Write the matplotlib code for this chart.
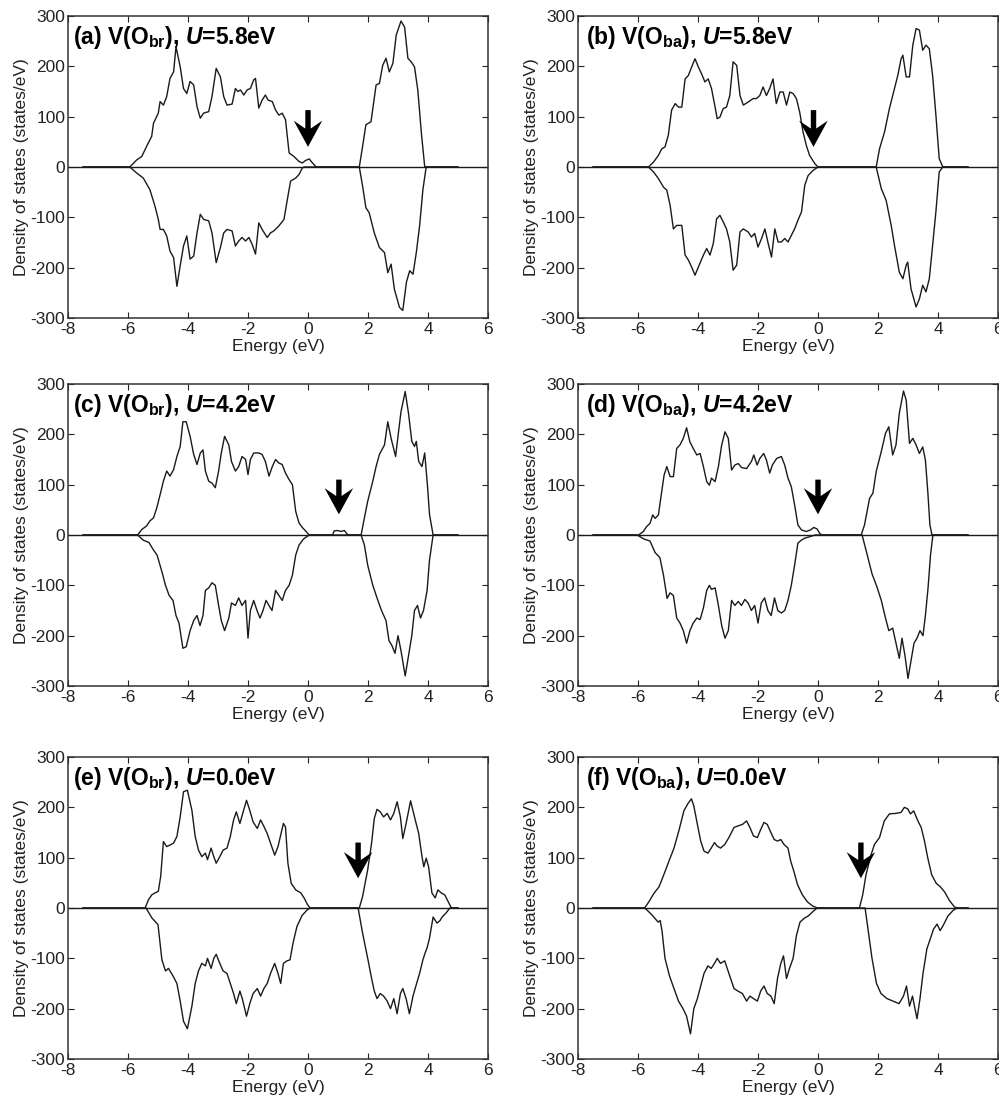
import numpy as np
import matplotlib
matplotlib.use("Agg")
import matplotlib.pyplot as plt

plt.rcParams['font.family'] = ['Liberation Sans', 'DejaVu Sans']
plt.rcParams['axes.unicode_minus'] = False
plt.rcParams['mathtext.fontset'] = 'custom'
plt.rcParams['mathtext.rm'] = 'Liberation Sans'
plt.rcParams['mathtext.bf'] = 'Liberation Sans:bold'
plt.rcParams['mathtext.it'] = 'Liberation Sans:italic'
plt.rcParams['mathtext.bfit'] = 'Liberation Sans:italic:bold'

# ---------------- data: (energy eV, DOS states/eV) ----------------
A_UP = [(-7.5,0),(-5.94,0),(-5.71,14),(-5.54,21),(-5.38,41),(-5.21,61),(-5.15,87),(-4.99,107),(-4.93,130),(-4.82,123),(-4.71,140),(-4.60,176),(-4.48,189),(-4.40,239),(-4.26,199),(-4.15,156),(-4.04,146),(-3.93,170),(-3.81,163),(-3.70,120),(-3.59,97),(-3.48,107),(-3.31,110),(-3.20,140),(-3.06,196),(-2.92,179),(-2.81,140),(-2.70,123),(-2.53,125),(-2.42,156),(-2.34,150),(-2.25,153),(-2.14,143),(-2.03,153),(-1.92,156),(-1.81,173),(-1.75,176),(-1.64,117),(-1.53,133),(-1.42,143),(-1.33,133),(-1.19,130),(-1.08,113),(-0.97,103),(-0.86,107),(-0.75,94),(-0.63,28),(-0.47,21),(-0.30,11),(-0.19,8),(-0.08,13),(0.04,16),(0.15,8),(0.26,1),(0.32,0),(1.71,0),(1.82,41),(1.93,84),(2.10,90),(2.27,163),(2.38,166),(2.49,202),(2.60,216),(2.71,189),(2.83,206),(2.94,262),(3.10,290),(3.22,278),(3.33,216),(3.44,209),(3.55,199),(3.66,153),(3.78,67),(3.89,1),(3.94,0),(5.0,0)]
A_DN = [(-7.5,0),(-5.94,0),(-5.71,-12),(-5.49,-22),(-5.27,-45),(-5.10,-78),(-4.99,-104),(-4.93,-124),(-4.82,-124),(-4.71,-137),(-4.60,-167),(-4.48,-180),(-4.37,-237),(-4.26,-196),(-4.15,-157),(-4.04,-137),(-3.93,-183),(-3.81,-177),(-3.70,-131),(-3.59,-94),(-3.48,-104),(-3.31,-107),(-3.20,-131),(-3.06,-190),(-2.92,-160),(-2.81,-131),(-2.70,-124),(-2.53,-127),(-2.42,-157),(-2.31,-147),(-2.20,-140),(-2.08,-147),(-1.97,-140),(-1.86,-154),(-1.75,-173),(-1.64,-111),(-1.53,-124),(-1.36,-140),(-1.25,-131),(-1.14,-127),(-0.97,-117),(-0.80,-104),(-0.69,-65),(-0.58,-28),(-0.41,-22),(-0.30,-15),(-0.19,-2),(-0.13,0),(1.71,0),(1.82,-38),(1.93,-81),(2.04,-91),(2.21,-131),(2.38,-160),(2.55,-170),(2.66,-210),(2.77,-193),(2.88,-243),(3.05,-279),(3.16,-285),(3.28,-229),(3.39,-206),(3.50,-213),(3.61,-170),(3.72,-117),(3.83,-45),(3.94,0),(5.0,0)]

B_UP = [(-7.5,0),(-5.65,0),(-5.48,10),(-5.32,23),(-5.21,36),(-5.10,40),(-4.99,63),(-4.88,113),(-4.76,126),(-4.65,119),(-4.54,119),(-4.43,175),(-4.32,182),(-4.21,199),(-4.10,215),(-3.99,199),(-3.88,185),(-3.77,169),(-3.66,175),(-3.55,156),(-3.43,119),(-3.36,96),(-3.27,99),(-3.16,116),(-3.05,119),(-2.94,142),(-2.83,209),(-2.71,202),(-2.60,142),(-2.49,123),(-2.33,129),(-2.16,136),(-2.05,136),(-1.94,142),(-1.83,159),(-1.72,142),(-1.61,156),(-1.50,175),(-1.39,126),(-1.27,149),(-1.16,149),(-1.05,123),(-0.94,149),(-0.83,146),(-0.72,136),(-0.61,109),(-0.50,70),(-0.39,43),(-0.28,23),(-0.11,7),(0.0,0),(1.94,0),(2.05,36),(2.22,70),(2.38,116),(2.55,156),(2.66,182),(2.77,215),(2.83,222),(2.94,179),(3.05,179),(3.16,242),(3.27,275),(3.38,272),(3.49,232),(3.60,242),(3.71,235),(3.82,182),(3.93,103),(4.04,17),(4.16,0),(5.0,0)]
B_DN = [(-7.5,0),(-5.65,0),(-5.48,-10),(-5.32,-23),(-5.15,-40),(-5.04,-46),(-4.93,-76),(-4.82,-123),(-4.71,-116),(-4.54,-116),(-4.43,-175),(-4.32,-185),(-4.21,-199),(-4.10,-215),(-3.99,-199),(-3.82,-175),(-3.71,-162),(-3.60,-175),(-3.49,-152),(-3.38,-103),(-3.27,-96),(-3.16,-109),(-3.05,-123),(-2.94,-149),(-2.83,-205),(-2.71,-195),(-2.60,-129),(-2.49,-123),(-2.33,-129),(-2.22,-139),(-2.11,-132),(-2.00,-159),(-1.88,-142),(-1.77,-123),(-1.66,-152),(-1.55,-179),(-1.44,-123),(-1.33,-149),(-1.22,-149),(-1.11,-142),(-1.00,-149),(-0.89,-136),(-0.78,-123),(-0.67,-106),(-0.55,-89),(-0.44,-36),(-0.33,-17),(-0.17,-7),(0.0,0),(1.94,0),(2.11,-43),(2.27,-66),(2.44,-116),(2.55,-156),(2.71,-209),(2.83,-222),(2.94,-195),(2.99,-189),(3.10,-242),(3.27,-278),(3.38,-262),(3.49,-235),(3.60,-248),(3.71,-222),(3.82,-156),(3.93,-89),(4.04,-10),(4.16,0),(5.0,0)]

C_UP = [(-7.5,0),(-5.68,0),(-5.54,11),(-5.38,18),(-5.27,28),(-5.15,34),(-5.04,54),(-4.93,80),(-4.82,107),(-4.71,127),(-4.60,117),(-4.48,130),(-4.37,156),(-4.26,176),(-4.17,225),(-4.06,225),(-3.93,196),(-3.81,160),(-3.70,140),(-3.59,163),(-3.50,169),(-3.42,127),(-3.31,107),(-3.20,103),(-3.09,94),(-2.98,127),(-2.89,163),(-2.78,196),(-2.64,179),(-2.55,146),(-2.42,127),(-2.31,136),(-2.20,156),(-2.08,150),(-2.00,120),(-1.92,150),(-1.81,163),(-1.64,163),(-1.53,160),(-1.42,146),(-1.30,117),(-1.19,136),(-1.08,150),(-0.97,143),(-0.86,140),(-0.75,123),(-0.63,110),(-0.52,100),(-0.41,47),(-0.30,24),(-0.19,15),(-0.08,8),(0.04,0),(0.82,0),(0.87,8),(0.98,9),(1.10,7),(1.21,9),(1.32,1),(1.38,0),(1.77,0),(1.88,34),(1.99,67),(2.16,107),(2.27,136),(2.38,160),(2.55,179),(2.66,225),(2.77,192),(2.92,156),(3.02,206),(3.10,245),(3.24,285),(3.35,242),(3.46,186),(3.55,176),(3.61,186),(3.69,146),(3.80,136),(3.89,163),(3.98,100),(4.05,41),(4.17,0),(5.0,0)]
C_DN = [(-7.5,0),(-5.68,0),(-5.50,-10),(-5.30,-15),(-5.17,-28),(-5.03,-40),(-4.87,-73),(-4.75,-100),(-4.63,-120),(-4.50,-130),(-4.40,-160),(-4.30,-175),(-4.17,-225),(-4.06,-222),(-3.93,-190),(-3.81,-170),(-3.70,-160),(-3.60,-180),(-3.50,-160),(-3.42,-110),(-3.31,-105),(-3.20,-95),(-3.09,-100),(-2.98,-140),(-2.89,-170),(-2.78,-190),(-2.64,-165),(-2.55,-135),(-2.42,-140),(-2.31,-125),(-2.20,-140),(-2.08,-130),(-2.00,-205),(-1.92,-150),(-1.81,-130),(-1.70,-150),(-1.60,-165),(-1.50,-150),(-1.40,-130),(-1.30,-140),(-1.20,-150),(-1.08,-110),(-0.97,-120),(-0.86,-130),(-0.75,-110),(-0.63,-100),(-0.52,-80),(-0.41,-40),(-0.30,-20),(-0.15,-8),(0.04,0),(1.77,0),(1.88,-20),(1.99,-60),(2.16,-100),(2.30,-125),(2.45,-150),(2.60,-170),(2.70,-210),(2.80,-220),(2.90,-235),(3.00,-200),(3.10,-230),(3.24,-280),(3.35,-240),(3.46,-200),(3.55,-150),(3.65,-140),(3.75,-165),(3.85,-150),(3.97,-110),(4.05,-50),(4.17,0),(5.0,0)]

D_UP = [(-7.5,0),(-5.98,0),(-5.82,7),(-5.71,17),(-5.60,23),(-5.51,40),(-5.43,33),(-5.32,40),(-5.21,86),(-5.13,119),(-5.04,136),(-4.93,116),(-4.82,116),(-4.71,172),(-4.60,179),(-4.49,192),(-4.38,213),(-4.27,185),(-4.16,172),(-4.04,159),(-3.93,162),(-3.82,136),(-3.71,106),(-3.62,99),(-3.55,113),(-3.43,106),(-3.32,136),(-3.21,179),(-3.10,205),(-2.99,192),(-2.88,129),(-2.77,139),(-2.66,142),(-2.55,134),(-2.38,132),(-2.22,146),(-2.14,159),(-2.03,139),(-1.94,152),(-1.81,162),(-1.72,149),(-1.61,123),(-1.52,139),(-1.38,152),(-1.22,156),(-1.11,139),(-1.00,113),(-0.89,96),(-0.78,60),(-0.67,20),(-0.55,10),(-0.39,7),(-0.25,10),(-0.14,15),(-0.03,12),(0.06,3),(0.14,0),(1.44,0),(1.55,20),(1.72,73),(1.83,83),(1.94,126),(2.11,166),(2.25,202),(2.36,215),(2.49,159),(2.60,179),(2.71,242),(2.85,286),(2.94,268),(3.05,182),(3.16,192),(3.27,179),(3.38,162),(3.49,175),(3.58,149),(3.66,86),(3.73,20),(3.80,0),(5.0,0)]
D_DN = [(-7.5,0),(-6.03,0),(-5.80,-8),(-5.60,-12),(-5.43,-35),(-5.27,-45),(-5.15,-80),(-5.03,-126),(-4.93,-115),(-4.82,-120),(-4.71,-165),(-4.60,-175),(-4.49,-190),(-4.38,-215),(-4.27,-190),(-4.16,-175),(-4.04,-165),(-3.93,-168),(-3.82,-145),(-3.71,-110),(-3.62,-100),(-3.55,-108),(-3.43,-105),(-3.32,-140),(-3.21,-180),(-3.10,-205),(-2.99,-190),(-2.88,-130),(-2.77,-140),(-2.66,-132),(-2.55,-140),(-2.44,-128),(-2.33,-135),(-2.22,-150),(-2.11,-140),(-2.00,-175),(-1.89,-135),(-1.78,-125),(-1.67,-150),(-1.56,-160),(-1.45,-125),(-1.34,-150),(-1.22,-155),(-1.11,-150),(-1.00,-130),(-0.89,-100),(-0.78,-60),(-0.67,-16),(-0.55,-10),(-0.43,-6),(-0.25,-3),(-0.10,0),(1.47,0),(1.60,-30),(1.80,-77),(1.97,-104),(2.11,-130),(2.25,-165),(2.36,-190),(2.49,-185),(2.60,-215),(2.71,-245),(2.80,-205),(2.90,-240),(3.00,-285),(3.10,-250),(3.20,-215),(3.30,-205),(3.40,-190),(3.50,-200),(3.58,-160),(3.67,-104),(3.75,-40),(3.83,0),(5.0,0)]

E_UP = [(-7.5,0),(-5.43,0),(-5.32,16),(-5.21,26),(-5.10,30),(-4.99,33),(-4.91,63),(-4.82,132),(-4.71,122),(-4.60,125),(-4.48,129),(-4.37,142),(-4.26,181),(-4.15,231),(-4.02,234),(-3.87,194),(-3.76,142),(-3.65,115),(-3.54,102),(-3.42,109),(-3.35,96),(-3.23,119),(-3.14,102),(-3.06,89),(-2.94,102),(-2.83,115),(-2.70,119),(-2.59,142),(-2.48,175),(-2.39,191),(-2.27,168),(-2.19,185),(-2.05,214),(-1.94,194),(-1.83,171),(-1.69,158),(-1.58,175),(-1.47,162),(-1.36,148),(-1.25,129),(-1.11,105),(-1.00,122),(-0.91,145),(-0.82,168),(-0.75,161),(-0.67,89),(-0.56,49),(-0.41,36),(-0.24,30),(-0.13,20),(-0.02,7),(0.07,0),(1.71,0),(1.82,23),(1.99,76),(2.12,129),(2.21,178),(2.30,196),(2.41,191),(2.52,181),(2.64,188),(2.75,175),(2.86,188),(2.97,211),(3.08,181),(3.16,138),(3.27,168),(3.42,213),(3.55,181),(3.69,148),(3.80,102),(3.86,82),(3.94,99),(4.02,82),(4.13,30),(4.24,20),(4.33,36),(4.44,30),(4.56,26),(4.67,13),(4.78,0),(5.0,0)]
E_DN = [(-7.5,0),(-5.40,0),(-5.20,-20),(-5.00,-33),(-4.87,-103),(-4.75,-125),(-4.65,-120),(-4.50,-135),(-4.37,-150),(-4.26,-185),(-4.15,-225),(-4.02,-240),(-3.87,-195),(-3.76,-150),(-3.65,-125),(-3.54,-110),(-3.42,-115),(-3.35,-100),(-3.23,-120),(-3.14,-100),(-3.06,-92),(-2.94,-110),(-2.83,-125),(-2.70,-130),(-2.59,-150),(-2.48,-170),(-2.39,-190),(-2.27,-165),(-2.19,-180),(-2.05,-215),(-1.94,-190),(-1.83,-170),(-1.69,-160),(-1.58,-175),(-1.47,-160),(-1.36,-150),(-1.25,-130),(-1.11,-110),(-1.00,-130),(-0.91,-150),(-0.82,-110),(-0.70,-105),(-0.60,-103),(-0.50,-70),(-0.37,-37),(-0.20,-15),(-0.03,-4),(0.07,0),(1.67,0),(1.82,-50),(2.00,-103),(2.12,-140),(2.21,-165),(2.30,-180),(2.41,-170),(2.52,-175),(2.64,-185),(2.75,-200),(2.86,-180),(2.97,-210),(3.08,-170),(3.16,-160),(3.27,-180),(3.38,-210),(3.50,-175),(3.62,-150),(3.72,-130),(3.83,-103),(3.90,-90),(3.97,-79),(4.05,-60),(4.17,-18),(4.30,-30),(4.40,-25),(4.47,-18),(4.60,-10),(4.73,0),(5.0,0)]

F_UP = [(-7.5,0),(-5.78,0),(-5.64,12),(-5.47,29),(-5.30,42),(-5.14,66),(-4.97,93),(-4.80,119),(-4.64,153),(-4.47,193),(-4.34,207),(-4.22,217),(-4.14,203),(-4.02,166),(-3.91,133),(-3.80,113),(-3.67,109),(-3.56,119),(-3.45,130),(-3.36,123),(-3.25,119),(-3.11,126),(-2.97,140),(-2.80,160),(-2.67,163),(-2.52,166),(-2.38,173),(-2.27,160),(-2.15,143),(-2.02,140),(-1.91,156),(-1.80,170),(-1.69,166),(-1.57,150),(-1.46,136),(-1.35,133),(-1.24,136),(-1.13,126),(-1.00,119),(-0.91,93),(-0.80,72),(-0.68,46),(-0.52,26),(-0.35,12),(-0.18,4),(-0.02,0),(1.38,0),(1.49,26),(1.60,66),(1.77,106),(1.88,126),(2.05,140),(2.21,173),(2.38,187),(2.60,188),(2.77,190),(2.88,200),(2.99,197),(3.08,187),(3.19,193),(3.33,173),(3.44,160),(3.55,133),(3.66,99),(3.79,66),(3.94,49),(4.08,42),(4.22,32),(4.38,15),(4.55,2),(4.66,0),(5.0,0)]
F_DN = [(-7.5,0),(-5.77,0),(-5.53,-14),(-5.43,-21),(-5.33,-28),(-5.26,-25),(-5.20,-45),(-5.10,-100),(-4.95,-135),(-4.80,-160),(-4.65,-185),(-4.50,-200),(-4.38,-215),(-4.25,-250),(-4.14,-200),(-4.02,-180),(-3.91,-155),(-3.80,-130),(-3.67,-115),(-3.56,-120),(-3.45,-110),(-3.36,-100),(-3.25,-110),(-3.11,-105),(-2.97,-130),(-2.80,-160),(-2.67,-165),(-2.52,-170),(-2.38,-185),(-2.27,-175),(-2.15,-180),(-2.02,-185),(-1.91,-165),(-1.80,-155),(-1.69,-170),(-1.57,-175),(-1.46,-190),(-1.35,-140),(-1.24,-110),(-1.15,-95),(-1.05,-140),(-0.95,-120),(-0.83,-100),(-0.72,-55),(-0.60,-28),(-0.45,-20),(-0.33,-16),(-0.15,-6),(-0.03,0),(1.57,0),(1.80,-100),(1.95,-150),(2.10,-170),(2.30,-180),(2.50,-185),(2.70,-190),(2.85,-175),(2.95,-155),(3.05,-195),(3.15,-175),(3.30,-220),(3.40,-180),(3.50,-130),(3.63,-81),(3.75,-60),(3.85,-42),(3.97,-32),(4.07,-45),(4.17,-35),(4.33,-16),(4.50,-5),(4.63,0),(5.0,0)]

LABELS = ["(a) V(O$_{\\mathbf{br}}$), $\\mathbfit{U}$=5.8eV",
          "(b) V(O$_{\\mathbf{ba}}$), $\\mathbfit{U}$=5.8eV",
          "(c) V(O$_{\\mathbf{br}}$), $\\mathbfit{U}$=4.2eV",
          "(d) V(O$_{\\mathbf{ba}}$), $\\mathbfit{U}$=4.2eV",
          "(e) V(O$_{\\mathbf{br}}$), $\\mathbfit{U}$=0.0eV",
          "(f) V(O$_{\\mathbf{ba}}$), $\\mathbfit{U}$=0.0eV"]
# arrow: (energy, top DOS, tip DOS)
ARROWS = [(0.0, 113, 40), (-0.15, 113, 40), (1.03, 110, 41),
          (0.0, 110, 41), (1.67, 130, 59), (1.43, 130, 59)]
UP = [A_UP, B_UP, C_UP, D_UP, E_UP, F_UP]
DN = [A_DN, B_DN, C_DN, D_DN, E_DN, F_DN]
XTICKS = [-8, -6, -4, -2, 0, 2, 4, 6]
YTICKS = [-300, -200, -100, 0, 100, 200, 300]

# ---------------- layout (pixels) ----------------
W, H = 999, 1102
fig = plt.figure(figsize=(W / 100, H / 100), dpi=100)
lefts = [68, 578]
tops = [16, 384, 757]
aw, ah = 420, 302

LC = '#1a1a1a'
for i in range(6):
    r, c = divmod(i, 2)
    l, t = lefts[c], tops[r]
    ax = fig.add_axes([l / W, 1 - (t + ah) / H, aw / W, ah / H])
    ax.set_xlim(-8, 6)
    ax.set_ylim(-300, 300)
    ax.axhline(0, color=LC, lw=1.0, zorder=2)
    up = np.array(UP[i], dtype=float)
    dn = np.array(DN[i], dtype=float)
    ax.plot(up[:, 0], up[:, 1], color=LC, lw=1.0, zorder=3)
    ax.plot(dn[:, 0], dn[:, 1], color=LC, lw=1.0, zorder=3)
    ex, ytop, ytip = ARROWS[i]
    ax.arrow(ex, ytop, 0, ytip - ytop, width=0.18, head_width=0.95,
             head_length=52, length_includes_head=True, overhang=0.3,
             color='black', lw=0, zorder=5)
    ax.set_xticks(XTICKS)
    ax.set_yticks(YTICKS)
    ax.tick_params(direction='in', top=True, right=True, length=4,
                   width=0.8, labelsize=12.5, pad=3, colors='#222222')
    ax.tick_params(axis='y', pad=2)
    for s in ax.spines.values():
        s.set_color('#333333')
        s.set_linewidth(1.1)
    ax.set_xlabel('Energy (eV)', fontsize=12.5, labelpad=1, color='#222222')
    ax.set_ylabel('Density of states (states/eV)', fontsize=12.5,
                  labelpad=1, color='#222222')
    ax.text(0.012 if c == 0 else 0.019, 0.907, LABELS[i], transform=ax.transAxes,
            fontsize=16.5, fontweight='bold', va='baseline', ha='left', zorder=6)

fig.savefig('out.png', dpi=100)
